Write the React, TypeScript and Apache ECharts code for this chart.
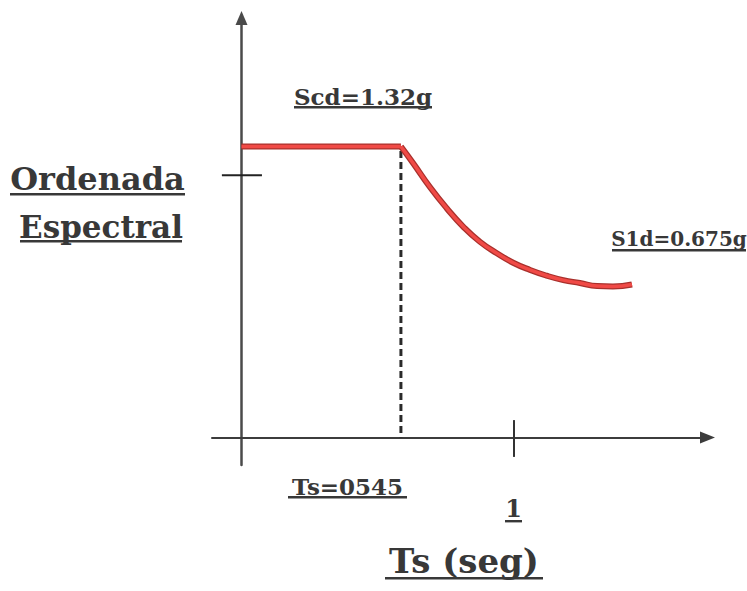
import React, { useEffect, useRef } from "react";
import * as echarts from "echarts";

// ---- data ----
const tsValue = 0.585; // corner period (label "Ts=0545")
const scdValue = 1.32; // plateau ordinate (Scd)
const plateauT = [0, tsValue];
const plateauSa = [scdValue, scdValue];
const curveT = [0.585, 0.63, 0.692, 0.753, 0.814, 0.875, 0.937, 0.997, 1.059, 1.12, 1.181, 1.242, 1.305, 1.363, 1.433];
const curveSa = [1.32, 1.244, 1.135, 1.04, 0.956, 0.888, 0.836, 0.793, 0.76, 0.734, 0.714, 0.701, 0.687, 0.685, 0.694];
const xTickValues = [1];
const yTickValues = [1.19];
const xTickHalf = [-0.088, 0.079];
const yTickHalf = [-0.072, 0.075];

const labels = [
  { text: "Ordenada", cx: 97.5, base: 190, ul: [10, 185, 194], size: 32 },
  { text: "Espectral", cx: 101, base: 238, ul: [20, 182, 241], size: 31 },
  { text: "Scd=1.32g", cx: 363, base: 104, ul: [294, 432, 107], size: 23 },
  { text: "S1d=0.675g", cx: 679, base: 246, ul: [612, 746, 250], size: 20 },
  { text: "Ts=0545", cx: 347.5, base: 494, ul: [288, 407, 497], size: 23 },
  { text: "1", cx: 513.5, base: 517, ul: [505, 522, 521], size: 24 },
  { text: "Ts (seg)", cx: 464, base: 573, ul: [385, 543, 578], size: 34 },
];

const INK = "#383838";
const FONT = "DejaVu Serif";

export default function App() {
  const ref = useRef<HTMLDivElement>(null);
  useEffect(() => {
    if (!ref.current) return;
    const chart = echarts.init(ref.current, null, { renderer: "svg" });

    const graphics: any[] = [];
    labels.forEach((l) => {
      graphics.push({
        type: "text",
        x: l.cx,
        y: l.base - 0.346 * l.size,
        silent: true,
        style: {
          text: l.text,
          fill: INK,
          font: `bold ${l.size}px "${FONT}"`,
          align: "center",
          verticalAlign: "middle",
        },
      });
      graphics.push({
        type: "rect",
        silent: true,
        shape: { x: l.ul[0], y: l.ul[2] - 1, width: l.ul[1] - l.ul[0], height: 2.4 },
        style: { fill: INK },
      });
    });

    const tickSeries: any[] = [];
    xTickValues.forEach((v) => {
      tickSeries.push({
        type: "line",
        data: [[v, xTickHalf[0]], [v, xTickHalf[1]]],
        showSymbol: false,
        silent: true,
        lineStyle: { color: "#333", width: 2 },
      });
    });
    yTickValues.forEach((v) => {
      tickSeries.push({
        type: "line",
        data: [[yTickHalf[0], v], [yTickHalf[1], v]],
        showSymbol: false,
        silent: true,
        lineStyle: { color: "#222", width: 2 },
      });
    });

    const curveData = curveT.map((t, i) => [t, curveSa[i]]);
    const plateauData = plateauT.map((t, i) => [t, plateauSa[i]]);

    chart.setOption({
      animation: false,
      backgroundColor: "#ffffff",
      grid: { left: 212, right: 39.5, top: 18, bottom: 126, containLabel: false },
      xAxis: {
        type: "value",
        min: -0.1083,
        max: 1.7101,
        axisLine: {
          onZero: true,
          symbol: ["none", "triangle"],
          symbolSize: [12, 15],
          lineStyle: { color: "#3c3c3c", width: 2 },
        },
        axisTick: { show: false },
        axisLabel: { show: false },
        splitLine: { show: false },
      },
      yAxis: {
        type: "value",
        min: -0.1247,
        max: 1.903,
        axisLine: {
          onZero: true,
          symbol: ["none", "triangle"],
          symbolSize: [12, 14],
          lineStyle: { color: "#4a4a4a", width: 2.5 },
        },
        axisTick: { show: false },
        axisLabel: { show: false },
        splitLine: { show: false },
      },
      series: [
        {
          type: "line",
          data: [[tsValue, scdValue - 0.02], [tsValue, 0]],
          showSymbol: false,
          silent: true,
          lineStyle: { color: "#2a2a2a", width: 3, type: [7, 4] },
        },
        ...tickSeries,
        {
          type: "line",
          data: plateauData,
          showSymbol: false,
          silent: true,
          lineStyle: { color: "#a8302c", width: 6 },
        },
        {
          type: "line",
          data: curveData,
          smooth: 0.5,
          showSymbol: false,
          silent: true,
          lineStyle: { color: "#a8302c", width: 6 },
        },
        {
          type: "line",
          data: plateauData,
          showSymbol: false,
          silent: true,
          lineStyle: { color: "#f04a46", width: 3.5 },
        },
        {
          type: "line",
          data: curveData,
          smooth: 0.5,
          showSymbol: false,
          silent: true,
          lineStyle: { color: "#f04a46", width: 3.5 },
        },
      ],
      graphic: graphics,
    });
    return () => chart.dispose();
  }, []);
  return (
    <div
      ref={ref}
      style={{ position: "fixed", left: 0, top: 0, width: 747, height: 591, background: "#fff" }}
    />
  );
}
